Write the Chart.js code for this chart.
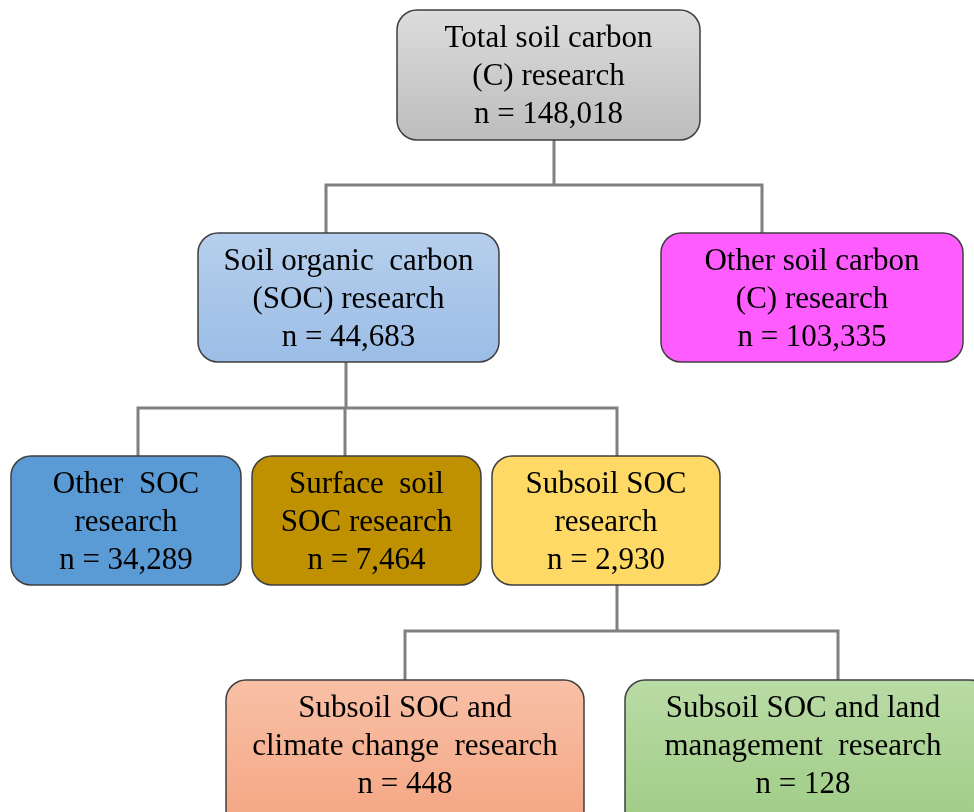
<!DOCTYPE html>
<html>
<head>
<meta charset="utf-8">
<script src="https://cdn.jsdelivr.net/npm/chart.js@4.4.0/dist/chart.umd.min.js"></script>
<style>
  html, body { margin: 0; padding: 0; background: #fff; }
  #wrap { width: 974px; height: 812px; }
</style>
</head>
<body>
<div id="wrap"><canvas id="tree" width="974" height="812"></canvas></div>
<script>
// Tree data
const nodeIds = ['total', 'soc', 'otherC', 'otherSoc', 'surface', 'subsoil', 'climate', 'land'];
const nodeLabels = [
  ['Total soil carbon', '(C) research'],
  ['Soil organic  carbon', '(SOC) research'],
  ['Other soil carbon', '(C) research'],
  ['Other  SOC', 'research'],
  ['Surface  soil', 'SOC research'],
  ['Subsoil SOC', 'research'],
  ['Subsoil SOC and', 'climate change  research'],
  ['Subsoil SOC and land', 'management  research']
];
const nodeCounts = [148018, 44683, 103335, 34289, 7464, 2930, 448, 128];
const nodeParents = [null, 'total', 'total', 'soc', 'soc', 'soc', 'subsoil', 'subsoil'];

// Layout in scale units (x: 0-974, y: 0-812 from the top)
const boxLayout = {
  total:    { x0: 397, x1: 700, y0: 10,  y1: 140, stemX: 554, busY: 185 },
  soc:      { x0: 198, x1: 499, y0: 233, y1: 362, dropX: 326, stemX: 346, busY: 408 },
  otherC:   { x0: 661, x1: 963, y0: 233, y1: 362, dropX: 762 },
  otherSoc: { x0: 11,  x1: 241, y0: 456, y1: 585, dropX: 138 },
  surface:  { x0: 252, x1: 481, y0: 456, y1: 585, dropX: 345 },
  subsoil:  { x0: 492, x1: 720, y0: 456, y1: 585, dropX: 617, stemX: 617, busY: 631 },
  climate:  { x0: 226, x1: 584, y0: 680, y1: 830, dropX: 405 },
  land:     { x0: 625, x1: 990, y0: 680, y1: 830, dropX: 838, textX: 803 }
};
// top / bottom fill colours
const boxFills = {
  total:    ['#dcdcdc', '#bdbdbd'],
  soc:      ['#b6cfec', '#9bbde6'],
  otherC:   ['#ff5cff', '#ff5cff'],
  otherSoc: ['#5b9bd5', '#5b9bd5'],
  surface:  ['#bf9000', '#bf9000'],
  subsoil:  ['#ffd966', '#ffd966'],
  climate:  ['#f8c0a6', '#f4a582'],
  land:     ['#b9dba5', '#9fcc85']
};

const treePlugin = {
  id: 'treePlugin',
  afterDatasetsDraw(chart) {
    const ctx = chart.ctx;
    const sx = chart.scales.x;
    const sy = chart.scales.y;
    const px = v => sx.getPixelForValue(v);
    const py = v => sy.getPixelForValue(v);

    // connector lines
    ctx.save();
    ctx.strokeStyle = '#808080';
    ctx.lineWidth = 3;
    nodeIds.forEach((id) => {
      const kids = nodeIds.filter((k, j) => nodeParents[j] === id);
      if (!kids.length) return;
      const p = boxLayout[id];
      const xs = kids.map(k => boxLayout[k].dropX).concat([p.stemX]);
      ctx.beginPath();
      ctx.moveTo(px(p.stemX), py(p.y1));
      ctx.lineTo(px(p.stemX), py(p.busY));
      ctx.moveTo(px(Math.min(...xs)) - 1.5, py(p.busY));
      ctx.lineTo(px(Math.max(...xs)) + 1.5, py(p.busY));
      kids.forEach(k => {
        const c = boxLayout[k];
        ctx.moveTo(px(c.dropX), py(p.busY));
        ctx.lineTo(px(c.dropX), py(c.y0));
      });
      ctx.stroke();
    });
    ctx.restore();

    // boxes
    nodeIds.forEach((id, i) => {
      const b = boxLayout[id];
      const x0 = px(b.x0), x1 = px(b.x1), y0 = py(b.y0), y1 = py(b.y1);
      const g = ctx.createLinearGradient(0, y0, 0, y1);
      g.addColorStop(0, boxFills[id][0]);
      g.addColorStop(1, boxFills[id][1]);
      ctx.save();
      ctx.beginPath();
      ctx.roundRect(x0, y0, x1 - x0, y1 - y0, 20);
      ctx.fillStyle = g;
      ctx.fill();
      ctx.strokeStyle = '#3f3f3f';
      ctx.lineWidth = 1.5;
      ctx.stroke();

      const lines = nodeLabels[i].concat(['n = ' + nodeCounts[i].toLocaleString('en-US')]);
      ctx.fillStyle = '#000';
      ctx.font = '31px "Liberation Serif", "Times New Roman", serif';
      ctx.textAlign = 'center';
      ctx.textBaseline = 'middle';
      const cx = b.textX !== undefined ? px(b.textX) : (x0 + x1) / 2;
      lines.forEach((t, li) => {
        ctx.fillText(t, cx, py(b.y0 + 29 + li * 38));
      });
      ctx.restore();
    });
  }
};

new Chart(document.getElementById('tree'), {
  type: 'scatter',
  data: { datasets: [{ data: [] }] },
  options: {
    responsive: false,
    animation: false,
    layout: { padding: 0 },
    plugins: { legend: { display: false }, tooltip: { enabled: false } },
    scales: {
      x: { type: 'linear', min: 0, max: 974, display: false },
      y: { type: 'linear', min: 0, max: 812, reverse: true, display: false }
    }
  },
  plugins: [treePlugin]
});
</script>
</body>
</html>
